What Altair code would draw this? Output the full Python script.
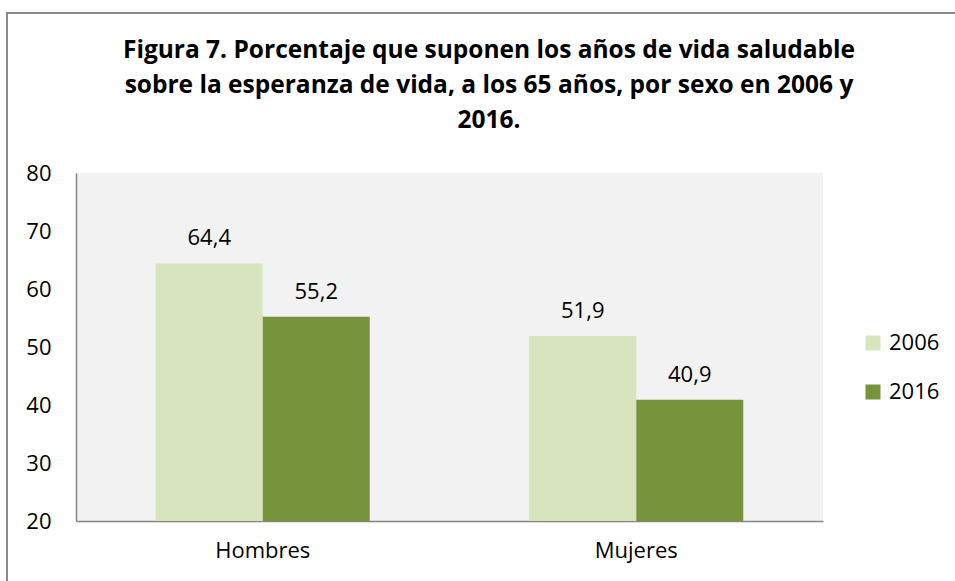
import altair as alt
import pandas as pd

sexos = ["Hombres", "Mujeres"]
anios = ["2006", "2016"]
valores_2006 = [64.4, 51.9]
valores_2016 = [55.2, 40.9]
etiquetas_2006 = ["64,4", "51,9"]
etiquetas_2016 = ["55,2", "40,9"]
colores = ["#d7e4bd", "#77933c"]
titulo = ["Figura 7. Porcentaje que suponen los años de vida saludable",
          "sobre la esperanza de vida, a los 65 años, por sexo en 2006 y",
          "2016."]

rows = []
for s, v, t in zip(sexos, valores_2006, etiquetas_2006):
    rows.append({"sexo": s, "anio": "2006", "valor": v, "etiqueta": t, "base": 20})
for s, v, t in zip(sexos, valores_2016, etiquetas_2016):
    rows.append({"sexo": s, "anio": "2016", "valor": v, "etiqueta": t, "base": 20})
df = pd.DataFrame(rows)

FONT = "Open Sans"
FS = 22

x = alt.X("sexo:N", sort=sexos, title=None,
          scale=alt.Scale(paddingInner=0.427, paddingOuter=0.2135),
          axis=alt.Axis(labelAngle=0, labelFontSize=FS, labelColor="#000000",
                        labelFont=FONT, ticks=False, labelPadding=19,
                        domainColor="#868686", domainWidth=1.5))
xo = alt.XOffset("anio:N", sort=anios, scale=alt.Scale(paddingInner=0, paddingOuter=0))

y = alt.Y("valor:Q", title=None,
          scale=alt.Scale(domain=[20, 80], zero=False, nice=False),
          axis=alt.Axis(values=[20, 30, 40, 50, 60, 70, 80], labelFontSize=FS,
                        labelColor="#000000", labelFont=FONT, ticks=False,
                        labelPadding=25, grid=False,
                        domainColor="#868686", domainWidth=1.5))

color = alt.Color("anio:N", sort=anios, title=None,
                  scale=alt.Scale(domain=anios, range=colores),
                  legend=alt.Legend(orient="none", legendX=786, legendY=159,
                                    symbolType="square", symbolSize=225,
                                    symbolStrokeWidth=0, labelFontSize=FS,
                                    labelFont=FONT, labelColor="#000000",
                                    labelOffset=5, rowPadding=27, padding=0))

bars = alt.Chart(df).mark_bar(stroke=None).encode(
    x=x, xOffset=xo, y=y, y2="base:Q", color=color
)

labels = alt.Chart(df).mark_text(fontSize=FS, font=FONT, color="#000000",
                                 baseline="bottom", dy=-13).encode(
    x=alt.X("sexo:N", sort=sexos), xOffset=xo, y="valor:Q", text="etiqueta:N"
)

title_layers = []
for i, line in enumerate(titulo):
    title_layers.append(
        alt.Chart(pd.DataFrame({"t": [line]})).mark_text(
            fontSize=24.5, font=FONT, fontWeight="bold", color="#000000",
            align="center", baseline="middle").encode(
            x=alt.value(413), y=alt.value(-122 + 35 * i), text="t:N")
    )

border_left = alt.Chart(df).mark_rule(color="#898989", strokeWidth=2).encode(
    x=alt.value(-69), y=alt.value(-160), y2=alt.value(420)
)
border_top = alt.Chart(df).mark_rule(color="#898989", strokeWidth=2).encode(
    x=alt.value(-70), x2=alt.value(900), y=alt.value(-160)
)

chart = alt.layer(bars, labels, border_left, border_top, *title_layers).properties(
    width=747, height=348,
    autosize=alt.AutoSizeParams(type="none"),
    padding={"left": 76, "top": 173, "right": 132, "bottom": 60},
    background="#ffffff",
).configure_view(fill="#f2f2f2", stroke=None)

chart.save("out.html", embed_options={"renderer": "svg", "actions": False})
